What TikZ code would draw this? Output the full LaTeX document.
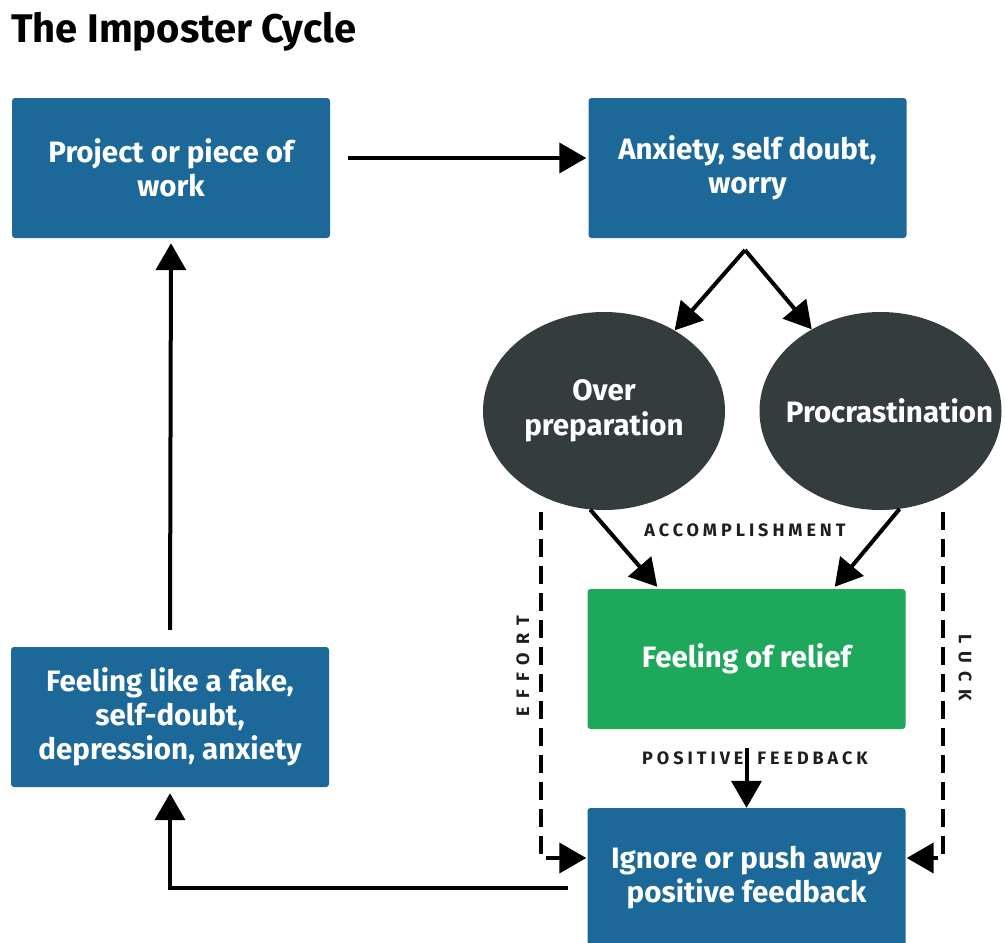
\documentclass[tikz,border=0pt]{standalone}
\usepackage{fontspec}
\setmainfont{Fira Sans}
\usetikzlibrary{arrows.meta,shapes.geometric}
\definecolor{boxblue}{RGB}{28,104,152}
\definecolor{boxgreen}{RGB}{29,168,92}
\definecolor{ovaldark}{RGB}{52,60,62}
\definecolor{labelgray}{RGB}{30,30,30}
\begin{document}
\begin{tikzpicture}[x=1pt,y=-1pt,
  box/.style={draw=none,fill=boxblue,rounded corners=3pt,minimum width=318pt,minimum height=140pt,inner sep=0pt,
    text=white,align=center,font=\bfseries\fontsize{29.5}{34}\selectfont},
  greenbox/.style={box,fill=boxgreen},
  oval/.style={ellipse,fill=ovaldark,minimum width=242pt,minimum height=198pt,inner sep=0pt,
    text=white,align=center,font=\bfseries\fontsize{29.5}{35}\selectfont},
  arr/.style={line width=4pt,-{Triangle[length=27pt,width=30pt]}},
  dasharr/.style={arr,dash pattern=on 18pt off 9pt},
  lbl/.style={text=labelgray,inner sep=0pt,font=\fontsize{18}{20}\selectfont\addfontfeature{LetterSpace=22}\bfseries},
  sidelbl/.style={text=labelgray,inner sep=0pt,font=\fontsize{18}{20}\selectfont\addfontfeature{LetterSpace=45}\bfseries}
]
\useasboundingbox[fill=white] (0,0) rectangle (1005,943);
\node[anchor=west,inner sep=0pt,font=\bfseries\fontsize{40}{44}\selectfont] (title) at (11,32) {The Imposter Cycle};

\node[box] (proj) at (171,168) {Project or piece of\\work};
\node[box] (anx) at (747.5,168) {Anxiety, self doubt,\\worry};
\node[box] (fake) at (170,717) {Feeling like a fake,\\self-doubt,\\depression, anxiety};
\node[greenbox] (rel) at (746.5,659) {Feeling of relief};
\node[box] (ign) at (746.5,878) {Ignore or push away\\positive feedback};
\node[oval] (op) at (604,411) {Over\\preparation};
\node[oval] (pr) at (880.5,411) {\makebox[0pt]{\hspace*{18pt}Procrastination}};

\coordinate (fork) at (745,250);
\coordinate (effTop) at (541,512);
\coordinate (luckTop) at (943,512);

% top arrow
\draw[arr] ([xshift=18pt,yshift=10pt]proj.east) -- ([xshift=-2pt,yshift=10pt]anx.west);
% fork
\draw[arr] (fork) -- (op);
\draw[arr] (fork) -- (pr);
% to relief
\draw[arr] (op.-98) -- ([xshift=70pt,yshift=2pt]rel.north west);
\draw[arr] (pr.-79) -- ([xshift=-71pt,yshift=2pt]rel.north east);
% positive feedback
\draw[arr] ([yshift=-19pt]rel.south) -- (ign.north);
% dashed
\draw[dasharr] (effTop) |- ([xshift=-1pt,yshift=20pt]ign.west);
\draw[dasharr] (luckTop) |- ([xshift=1pt,yshift=20pt]ign.east);
% loop back
\draw[arr] ([xshift=-19pt,yshift=-10pt]ign.west) -| ([yshift=-6pt]fake.south);
\draw[arr] ([yshift=17pt]fake.north) -- ([yshift=-5pt]proj.south);

% labels
\node[lbl] (acc) at (745,530) {ACCOMPLISHMENT};
\node[lbl] (pf) at (755,758) {POSITIVE\hspace{14pt}FEEDBACK};
\node[sidelbl,rotate=90] (eff) at (523,666) {EFFORT};
\node[sidelbl,rotate=-90] (luck) at (965,668) {LUCK};
\end{tikzpicture}
\end{document}
